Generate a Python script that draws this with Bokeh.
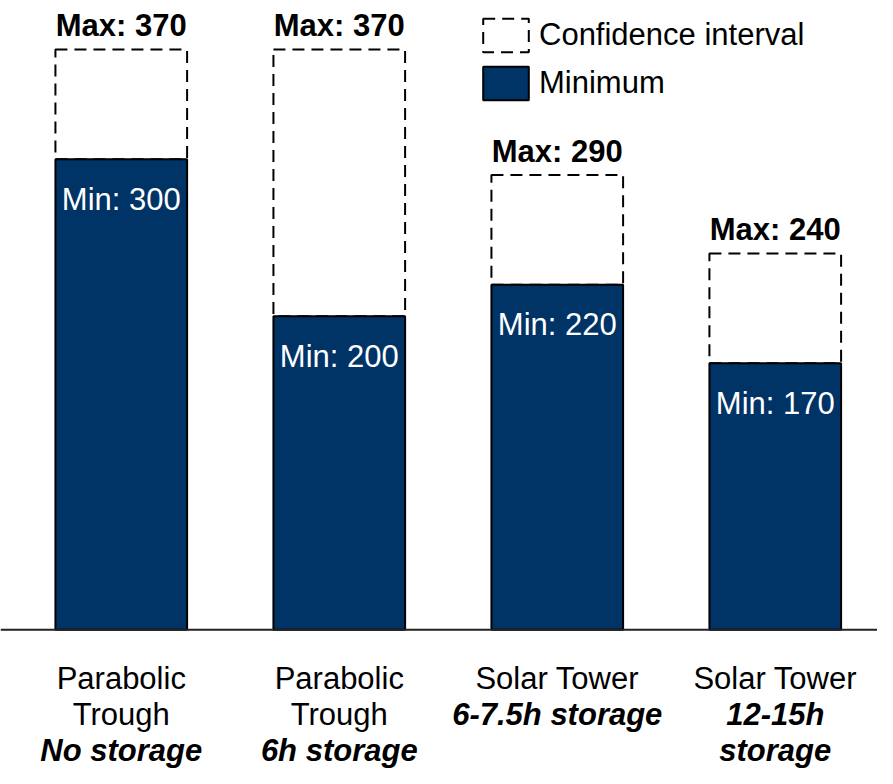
from bokeh.plotting import figure
from bokeh.models import ColumnDataSource, Range1d, Span, Legend, LegendItem
from bokeh.core.properties import value
from bokeh.embed import file_html
from bokeh.resources import INLINE

# ---- data ----
categories = ["Parabolic Trough No storage", "Parabolic Trough 6h storage",
              "Solar Tower 6-7.5h storage", "Solar Tower 12-15h storage"]
min_values = [300, 200, 220, 170]
max_values = [370, 370, 290, 240]
label_regular = [["Parabolic", "Trough"], ["Parabolic", "Trough"], ["Solar Tower"], ["Solar Tower"]]
label_bold = [["No storage"], ["6h storage"], ["6-7.5h storage"], ["12-15h", "storage"]]

FONT = "Liberation Sans"
FS = "31px"
NAVY = "#003366"
xs = list(range(len(categories)))

src = ColumnDataSource(dict(
    x=xs, lo=min_values, hi=max_values,
    min_txt=[f"Min: {v}" for v in min_values],
    max_txt=[f"Max: {v}" for v in max_values],
))

p = figure(width=877, height=768, output_backend="svg", toolbar_location=None,
           x_range=Range1d(-0.554, 3.469), y_range=Range1d(-88.5, 401.3),
           x_axis_type=None, y_axis_type=None, min_border=0)
p.outline_line_color = None
p.xgrid.visible = False
p.ygrid.visible = False
p.background_fill_color = "white"

bw = 0.604
ci = p.vbar(x="x", width=bw, bottom="lo", top="hi", source=src,
            fill_color=None, line_color="black", line_width=2, line_dash="12 7")
mn = p.vbar(x="x", width=bw, bottom=0, top="lo", source=src,
            fill_color=NAVY, line_color="black", line_width=2)

p.add_layout(Span(location=0, dimension="width", line_color="#222222", line_width=2))

p.text(x="x", y="hi", text="max_txt", source=src, y_offset=-24,
       text_align="center", text_baseline="alphabetic",
       text_font=value(FONT), text_font_style="bold", text_font_size=FS,
       text_color="black")
p.text(x="x", y="lo", text="min_txt", source=src, y_offset=40,
       text_align="center", text_baseline="alphabetic",
       text_font=value(FONT), text_font_size=FS, text_color="white")

# category labels, line by line
line_gap = 36
first = 49
reg = dict(x=[], y=[], t=[], off=[])
bld = dict(x=[], y=[], t=[], off=[])
for i in xs:
    k = 0
    for ln in label_regular[i]:
        reg["x"].append(i); reg["y"].append(0); reg["t"].append(ln); reg["off"].append(first + k * line_gap); k += 1
    for ln in label_bold[i]:
        bld["x"].append(i); bld["y"].append(0); bld["t"].append(ln); bld["off"].append(first + k * line_gap); k += 1

p.text(x="x", y="y", text="t", y_offset="off", source=ColumnDataSource(reg),
       text_align="center", text_baseline="alphabetic",
       text_font=value(FONT), text_font_size=FS, text_color="black")
p.text(x="x", y="y", text="t", y_offset="off", source=ColumnDataSource(bld),
       text_align="center", text_baseline="alphabetic",
       text_font=value(FONT), text_font_style="bold italic", text_font_size=FS,
       text_color="black")

legend = Legend(items=[LegendItem(label="Confidence interval", renderers=[ci]),
                       LegendItem(label="Minimum", renderers=[mn])],
                location=(477, 664), orientation="vertical",
                glyph_width=57, glyph_height=42, label_standoff=5, spacing=6,
                padding=0, margin=0, border_line_color=None, background_fill_alpha=0,
                label_text_font=FONT, label_text_font_size=FS, label_text_color="black")
p.add_layout(legend, "center")

open("out.html", "w").write(file_html(p, INLINE))
